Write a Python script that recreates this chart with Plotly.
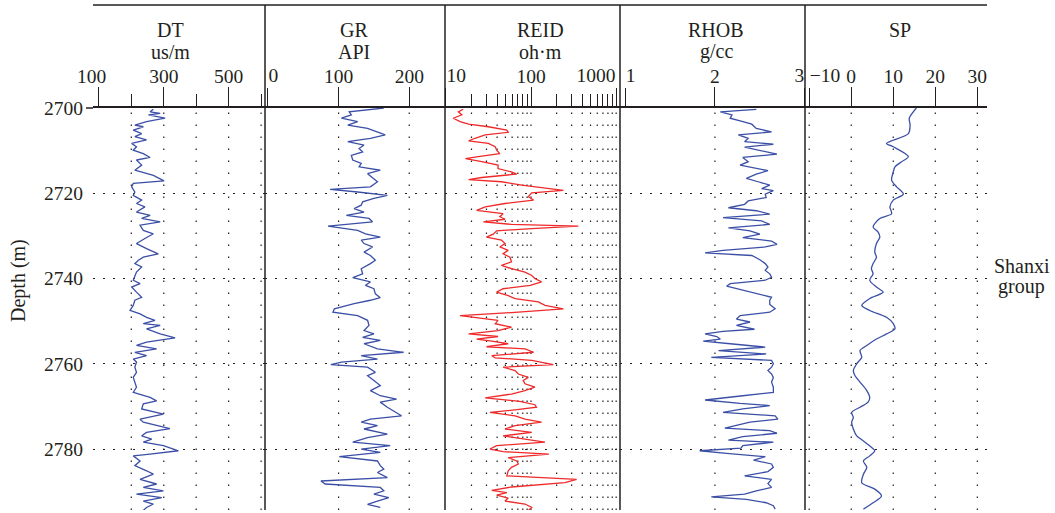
import plotly.graph_objects as go

# ---------------- data ----------------
dt_depth = [2700.3, 2700.9, 2701.25, 2701.6, 2702.4, 2703.2, 2704.0, 2704.4, 2705.2, 2706.0,
            2706.7, 2707.5, 2708.3, 2709.1, 2709.9, 2710.7, 2711.6, 2712.2, 2713.4, 2714.6,
            2715.8, 2717.1, 2717.7, 2718.5, 2719.7, 2720.5, 2721.6, 2722.4, 2723.2, 2724.4,
            2725.2, 2725.9, 2726.7, 2727.5, 2728.7, 2729.5, 2730.6, 2731.8, 2733.0, 2734.2,
            2735.0, 2735.7, 2736.5, 2737.3, 2738.5, 2739.3, 2740.4, 2741.2, 2742.0, 2743.2,
            2744.4, 2745.1, 2746.3, 2747.5, 2748.3, 2749.1, 2749.8, 2750.6, 2751.0, 2751.8,
            2753.0, 2753.9, 2754.9, 2755.7, 2756.5, 2757.3, 2758.1, 2758.9, 2759.6, 2760.8,
            2762.0, 2763.2, 2764.3, 2765.5, 2766.7, 2767.9, 2768.7, 2769.4, 2770.6, 2771.8,
            2773.0, 2773.7, 2775.2, 2776.1, 2776.9, 2777.7, 2778.4, 2779.2, 2780.0, 2780.4,
            2781.2, 2781.6, 2782.8, 2783.9, 2785.1, 2785.9, 2787.1, 2788.2, 2789.0, 2789.8,
            2790.6, 2791.4, 2792.2, 2792.9, 2793.7, 2794.4]
dt_vals = [268, 258, 289, 253, 304, 247, 211, 237, 206, 232,
           211, 247, 201, 216, 206, 237, 258, 216, 232, 211,
           268, 301, 206, 201, 211, 206, 232, 216, 242, 216,
           258, 232, 289, 227, 237, 268, 242, 216, 247, 283,
           237, 222, 211, 232, 216, 211, 206, 227, 201, 216,
           232, 211, 206, 196, 227, 247, 273, 237, 289, 247,
           289, 335, 247, 216, 278, 211, 247, 206, 216, 211,
           216, 206, 211, 216, 206, 258, 278, 237, 232, 299,
           227, 237, 319, 247, 232, 263, 237, 299, 330, 345,
           258, 206, 227, 211, 247, 268, 227, 278, 237, 299,
           216, 294, 237, 268, 247, 237]

gr_depth = [2700.0, 2700.9, 2701.6, 2702.4, 2703.2, 2704.0, 2704.8, 2705.6, 2706.3, 2707.1,
            2707.9, 2708.7, 2709.5, 2710.3, 2711.1, 2712.2, 2713.0, 2713.8, 2714.6, 2715.4,
            2716.5, 2717.3, 2718.5, 2719.1, 2719.7, 2720.5, 2721.2, 2722.0, 2722.8, 2723.6,
            2724.4, 2725.2, 2725.9, 2726.7, 2727.7, 2728.7, 2729.5, 2730.3, 2731.0, 2731.8,
            2732.6, 2733.8, 2734.6, 2735.7, 2736.5, 2737.7, 2738.9, 2739.8, 2740.8, 2741.6,
            2742.4, 2743.6, 2744.5, 2745.1, 2745.9, 2747.1, 2747.9, 2748.7, 2749.8, 2751.0,
            2752.2, 2753.0, 2753.8, 2754.5, 2755.3, 2756.5, 2757.3, 2758.1, 2758.9, 2759.6,
            2760.2, 2760.8, 2762.0, 2762.8, 2763.9, 2765.1, 2766.3, 2767.5, 2768.3, 2769.0,
            2770.2, 2771.4, 2772.2, 2773.0, 2773.7, 2774.5, 2775.3, 2776.5, 2777.3, 2778.4,
            2779.2, 2780.0, 2780.8, 2781.8, 2782.8, 2783.9, 2784.7, 2785.5, 2786.7, 2787.5,
            2788.2, 2789.0, 2789.8, 2790.6, 2791.4, 2792.2, 2793.0, 2793.7]
gr_vals = [164, 115, 118, 104, 127, 113, 141, 155, 166, 145,
           113, 136, 129, 134, 118, 120, 132, 129, 159, 141,
           150, 155, 145, 88, 127, 169, 150, 134, 132, 122,
           136, 111, 143, 148, 85, 127, 138, 159, 132, 136,
           148, 136, 145, 152, 145, 132, 134, 120, 145, 138,
           150, 152, 159, 145, 122, 94, 92, 127, 141, 143,
           136, 150, 134, 159, 136, 155, 192, 132, 155, 104,
           89, 141, 152, 141, 150, 159, 145, 159, 182, 159,
           169, 182, 189, 145, 132, 155, 136, 169, 141, 120,
           173, 132, 159, 101, 155, 159, 164, 155, 169, 75,
           81, 159, 164, 150, 171, 155, 141, 159]

reid_depth = [2700.3, 2700.9, 2701.6, 2702.4, 2703.2, 2703.8, 2704.4, 2705.2, 2705.7, 2706.3,
              2707.1, 2707.7, 2708.3, 2709.1, 2709.9, 2710.7, 2711.4, 2711.9, 2712.6, 2713.4,
              2714.2, 2715.0, 2715.5, 2716.3, 2716.8, 2717.3, 2718.1, 2718.7, 2719.3, 2719.9,
              2720.8, 2721.6, 2722.4, 2723.2, 2724.0, 2724.8, 2725.5, 2726.1, 2726.7, 2727.3,
              2727.7, 2728.3, 2728.8, 2729.6, 2730.3, 2731.0, 2731.8, 2732.6, 2733.4, 2734.2,
              2735.0, 2736.1, 2736.9, 2737.7, 2738.5, 2739.3, 2740.0, 2740.8, 2741.6, 2742.4,
              2743.2, 2744.0, 2744.7, 2745.5, 2746.3, 2747.1, 2747.9, 2748.7, 2749.2, 2749.8,
              2750.6, 2751.4, 2752.2, 2753.0, 2753.6, 2754.2, 2754.7, 2755.3, 2756.0, 2756.5,
              2757.3, 2758.1, 2758.6, 2759.2, 2760.2, 2760.8, 2761.6, 2762.4, 2763.2, 2763.9,
              2764.7, 2765.5, 2766.3, 2767.1, 2768.0, 2768.8, 2769.6, 2770.2, 2770.8, 2771.4,
              2772.2, 2773.0, 2773.7, 2774.5, 2775.3, 2776.1, 2776.9, 2777.7, 2778.4, 2779.2,
              2780.0, 2780.6, 2781.2, 2782.0, 2782.8, 2783.5, 2784.3, 2785.1, 2786.3, 2787.1,
              2787.9, 2788.9, 2789.7, 2790.2, 2790.8, 2791.5, 2792.2, 2792.9, 2793.7, 2794.4]
reid_vals = [16, 14, 15.4, 12.2, 14.7, 18.5, 31.6, 52, 54, 29,
             22, 18.5, 31.6, 38, 39.5, 43, 24, 17, 26.4, 41,
             41, 59, 68, 26.4, 18.5, 45, 78, 133, 240, 102,
             93, 107, 49.5, 29, 23, 47, 43, 49.5, 27.6, 59,
             359, 102, 39.5, 36, 30, 45, 49.5, 43, 54, 47,
             56.6, 59, 45, 59, 85, 102, 111, 133, 98, 47,
             39.5, 54, 65, 122, 146, 240, 71, 14.7, 24, 41,
             38, 59, 41, 18.5, 41, 23, 34.6, 54, 30, 85,
             107, 34.6, 38, 102, 183, 47, 65, 71, 93, 81,
             85, 111, 85, 59, 29, 74, 111, 116, 65, 33,
             65, 85, 133, 65, 49.5, 102, 47, 85, 146, 39.5,
             33, 47, 162, 54, 68, 71, 59, 54, 52, 343,
             250, 59, 34.6, 52, 39.5, 54, 49.5, 85, 102, 93]

rhob_depth = [2700.3, 2700.9, 2701.6, 2702.4, 2703.0, 2703.8, 2704.8, 2705.6, 2706.3, 2707.1,
              2707.9, 2708.5, 2709.2, 2710.0, 2710.8, 2711.6, 2712.6, 2713.4, 2714.2, 2714.7,
              2715.5, 2716.5, 2717.3, 2718.1, 2718.9, 2719.4, 2720.2, 2721.0, 2721.8, 2722.6,
              2723.4, 2724.1, 2724.9, 2725.7, 2726.5, 2727.3, 2728.1, 2728.8, 2729.6, 2730.4,
              2731.2, 2732.0, 2732.6, 2733.4, 2734.0, 2734.6, 2735.6, 2736.5, 2737.3, 2738.1,
              2738.9, 2739.7, 2740.4, 2741.2, 2741.8, 2742.6, 2743.6, 2744.4, 2745.1, 2746.1,
              2747.1, 2747.9, 2748.7, 2749.5, 2750.2, 2751.0, 2751.9, 2752.4, 2753.0, 2753.6,
              2754.2, 2754.7, 2755.3, 2756.1, 2756.9, 2757.7, 2758.5, 2759.2, 2760.0, 2760.8,
              2761.6, 2762.4, 2763.2, 2764.3, 2765.5, 2766.7, 2767.5, 2768.5, 2769.3, 2769.8,
              2770.6, 2771.4, 2772.2, 2773.0, 2773.7, 2775.1, 2775.7, 2776.3, 2777.1, 2777.9,
              2778.4, 2779.2, 2779.8, 2780.4, 2781.0, 2781.8, 2782.6, 2783.5, 2784.3, 2785.3,
              2786.3, 2787.1, 2788.1, 2789.0, 2789.8, 2790.6, 2791.2, 2791.8, 2792.6, 2793.3,
              2794.1]
rhob_vals = [2.46, 2.06, 2.19, 2.17, 2.28, 2.41, 2.46, 2.63, 2.26, 2.37,
             2.33, 2.65, 2.33, 2.52, 2.69, 2.31, 2.37, 2.28, 2.46, 2.59,
             2.46, 2.35, 2.48, 2.61, 2.52, 2.65, 2.56, 2.57, 2.37, 2.33,
             2.15, 2.46, 2.61, 2.09, 2.52, 2.61, 2.15, 2.39, 2.50, 2.31,
             2.63, 2.69, 2.56, 2.09, 1.89, 2.41, 2.50, 2.56, 2.59, 2.56,
             2.61, 2.63, 2.56, 2.17, 2.13, 2.28, 2.50, 2.63, 2.61, 2.61,
             2.67, 2.61, 2.28, 2.24, 2.39, 2.24, 2.44, 2.09, 1.89, 2.02,
             2.06, 1.87, 2.17, 2.56, 2.04, 2.57, 1.96, 2.63, 2.65, 2.63,
             2.59, 2.63, 2.65, 2.63, 2.65, 2.65, 2.31, 1.89, 2.28, 2.61,
             2.31, 2.09, 2.67, 2.70, 2.39, 2.11, 2.61, 2.69, 2.31, 2.15,
             2.65, 2.31, 2.29, 1.83, 2.13, 2.56, 2.43, 2.63, 2.65, 2.59,
             2.33, 2.63, 2.59, 2.63, 2.46, 2.33, 1.96, 2.35, 2.57, 2.65,
             2.67]

sp_depth = [2700.0, 2702.4, 2704.0, 2706.0, 2708.3, 2709.1, 2711.4, 2712.6, 2713.8, 2715.0,
            2716.9, 2718.5, 2720.2, 2721.6, 2723.2, 2724.8, 2725.9, 2727.9, 2729.1, 2730.3,
            2731.8, 2733.8, 2735.0, 2736.5, 2737.7, 2738.9, 2740.4, 2742.0, 2743.2, 2744.7,
            2746.3, 2747.5, 2749.1, 2750.6, 2751.8, 2753.0, 2754.2, 2755.7, 2756.9, 2758.5,
            2760.0, 2761.6, 2762.8, 2764.3, 2766.3, 2767.9, 2769.0, 2770.2, 2771.4, 2772.6,
            2773.7, 2775.3, 2776.9, 2778.1, 2779.6, 2780.4, 2781.6, 2782.8, 2784.3, 2785.9,
            2787.9, 2789.4, 2791.0, 2792.6, 2794.1]
sp_vals = [15.5, 13.8, 14.0, 13.6, 8.4, 10.0, 13.6, 12.0, 10.4, 10.0,
           9.6, 10.8, 12.4, 10.0, 9.2, 9.6, 6.8, 5.2, 6.4, 6.8,
           6.0, 5.6, 6.0, 5.2, 4.8, 5.2, 4.4, 6.0, 7.6, 4.4,
           2.5, 4.4, 8.4, 10.0, 10.4, 8.4, 6.0, 3.7, 2.1, 2.5,
           1.3, 0.5, 0.9, 2.1, 3.7, 4.4, 4.0, 2.1, 0.1, 0.5,
           0.1, 0.5, 1.3, 2.9, 4.8, 5.6, 4.4, 2.9, 3.7, 2.9,
           2.5, 5.6, 7.2, 5.2, 2.9]

depth_ticks = [2700, 2720, 2740, 2760, 2780]
depth_range = [2794.3, 2700]

NB = "\u00a0"
track_names = ["DT", "GR", "REID", "RHOB", "SP"]
track_units = ["us/m", "API", "oh\u00b7m", "g/cc", ""]
major_ticks = [[100, 300, 500], [0, 100, 200], [10, 100, 1000], [1, 2, 3], [-10, 0, 10, 20, 30]]
major_text = [["100" + NB * 3, "300", "500"],
              ["0", "100", "200"],
              ["10", "100", "1000"],
              ["1", "2", "3"],
              ["\u221210", "0", "10", "20", "30"]]
# where each tick label sits relative to its tick: c = centred, r = right of tick, l = left of tick
label_side = [["c", "c", "c"], ["r", "c", "c"], ["r", "c", "l"], ["r", "c", "l"], ["r", "c", "c", "c", "c"]]
minor_ticks = [[200, 400, 600], [], [20, 30, 40, 50, 60, 70, 80, 90, 200, 300, 400, 500, 600, 700, 800, 900],
               [], []]
grid_vals = [[200, 300, 400, 500, 600], [100, 200],
             [20, 30, 40, 50, 60, 70, 80, 90, 100, 200, 300, 400, 500, 600, 700, 800, 900, 1000],
             [2], [-10, 0, 10, 20, 30]]

# ---------------- layout geometry ----------------
W, H = 1055, 513
ML, MR, MT, MB = 93, 68, 108, 3
PW = W - ML - MR
PH = H - MT - MB


def fx(p):
    return (p - ML) / PW


def fy(p):
    return (H - MB - p) / PH


edges = [93, 265, 445, 620, 805, 987]
ranges = [[82, 612], [-4.2, 250.6], [0.99, 3.045], [0.944, 3.002], [-11.0, 32.3]]
types = ["linear", "linear", "log", "linear", "linear"]
title_x = [170, 354, 540, 716, 900]

INK = "#231f20"
BLUE = "#3b4fa6"
RED = "#ee2a2a"
FONT = "Liberation Serif"
TICKFONT = dict(size=19.5, family=FONT, color=INK)
STANDOFF = -4
SIDE_STANDOFF = 17

curves = [(dt_vals, dt_depth, BLUE), (gr_vals, gr_depth, BLUE), (reid_vals, reid_depth, RED),
          (rhob_vals, rhob_depth, BLUE), (sp_vals, sp_depth, BLUE)]

fig = go.Figure()
for i, (xv, yv, col) in enumerate(curves):
    fig.add_trace(go.Scatter(
        x=xv, y=yv, mode="lines",
        line=dict(color=col, width=1.3, shape="spline" if i == 4 else "linear", smoothing=0.8),
        xaxis="x" if i == 0 else f"x{i+1}", yaxis="y", showlegend=False, hoverinfo="skip"))

layout = dict(
    width=W, height=H,
    margin=dict(l=ML, r=MR, t=MT, b=MB),
    paper_bgcolor="white", plot_bgcolor="white",
    font=dict(family=FONT, color=INK, size=20),
    showlegend=False,
    yaxis=dict(domain=[0, 1], anchor="x", range=depth_range, tickmode="array", tickvals=depth_ticks,
               ticks="outside", ticklen=5, tickcolor="rgba(0,0,0,0)", showline=False, zeroline=False,
               showgrid=True, gridcolor=INK, gridwidth=1.2, griddash="1.5px,8.5px",
               tickfont=TICKFONT),
)

shapes = []
annotations = []
extra_axis = 6
pos_name = {"r": "outside right", "l": "outside left"}
for i in range(5):
    key = "xaxis" if i == 0 else f"xaxis{i+1}"
    xref = "x" if i == 0 else f"x{i+1}"
    cv = [v for v, s in zip(major_ticks[i], label_side[i]) if s == "c"]
    ct = [t for t, s in zip(major_text[i], label_side[i]) if s == "c"]
    ax = dict(domain=[fx(edges[i]), fx(edges[i + 1])], anchor="y", side="top", type=types[i],
              range=ranges[i], tickmode="array", tickvals=cv, ticktext=ct,
              ticks="outside", ticklen=19, tickwidth=1.3, tickcolor=INK, ticklabelstandoff=STANDOFF,
              showline=True, linecolor=INK, linewidth=1.5, showgrid=False, zeroline=False,
              tickfont=TICKFONT)
    if minor_ticks[i]:
        ax["minor"] = dict(tickmode="array", tickvals=minor_ticks[i], ticks="outside", ticklen=12,
                           tickwidth=1.3, tickcolor=INK, showgrid=False)
    layout[key] = ax
    for side in ("r", "l"):
        sv = [v for v, s in zip(major_ticks[i], label_side[i]) if s == side]
        st = [t for t, s in zip(major_text[i], label_side[i]) if s == side]
        if not sv:
            continue
        k = extra_axis
        extra_axis += 1
        layout[f"xaxis{k}"] = dict(overlaying=xref, anchor="y", side="top", type=types[i], range=ranges[i],
                                   tickmode="array", tickvals=sv, ticktext=st, ticklabelposition=pos_name[side],
                                   ticks="outside", ticklen=19, tickwidth=1.3, tickcolor=INK,
                                   ticklabelstandoff=SIDE_STANDOFF,
                                   showline=False, showgrid=False, zeroline=False, tickfont=TICKFONT)
        fig.add_trace(go.Scatter(x=[], y=[], xaxis=f"x{k}", yaxis="y", showlegend=False, hoverinfo="skip"))
    for v in grid_vals[i]:
        shapes.append(dict(type="line", xref=xref, x0=v, x1=v, yref="paper", y0=0, y1=1, layer="below",
                           line=dict(color=INK, width=1.2, dash="1.5px,10.5px")))
    annotations.append(dict(text=track_names[i], x=fx(title_x[i]), y=fy(30), xref="paper", yref="paper",
                            showarrow=False, xanchor="center", yanchor="middle",
                            font=dict(size=20, family=FONT, color=INK)))
    if track_units[i]:
        annotations.append(dict(text=track_units[i], x=fx(title_x[i]), y=fy(52), xref="paper", yref="paper",
                                showarrow=False, xanchor="center", yanchor="middle",
                                font=dict(size=20, family=FONT, color=INK)))

# frame lines
for e in edges[1:5]:
    shapes.append(dict(type="line", xref="paper", yref="paper", x0=fx(e), x1=fx(e), y0=0, y1=fy(5),
                       line=dict(color=INK, width=1.5), layer="above"))
shapes.append(dict(type="line", xref="paper", yref="paper", x0=0, x1=1, y0=fy(5), y1=fy(5),
                   line=dict(color=INK, width=1.5), layer="above"))
shapes.append(dict(type="line", xref="paper", yref="paper", x0=fx(86), x1=0, y0=1, y1=1,
                   line=dict(color=INK, width=1.5), layer="above"))

annotations.append(dict(text="Depth (m)", x=fx(18), y=fy(281), xref="paper", yref="paper", textangle=-90,
                        showarrow=False, xanchor="center", yanchor="middle",
                        font=dict(size=20, family=FONT, color=INK)))
annotations.append(dict(text="Shanxi", x=fx(1022), y=fy(266), xref="paper", yref="paper",
                        showarrow=False, xanchor="center", yanchor="middle",
                        font=dict(size=20, family=FONT, color=INK)))
annotations.append(dict(text="group", x=fx(1022), y=fy(286), xref="paper", yref="paper",
                        showarrow=False, xanchor="center", yanchor="middle",
                        font=dict(size=20, family=FONT, color=INK)))

layout["shapes"] = shapes
layout["annotations"] = annotations
fig.update_layout(**layout)
fig.write_html("out.html", config={"displayModeBar": False},
               post_script="document.body.style.margin='0px';")
